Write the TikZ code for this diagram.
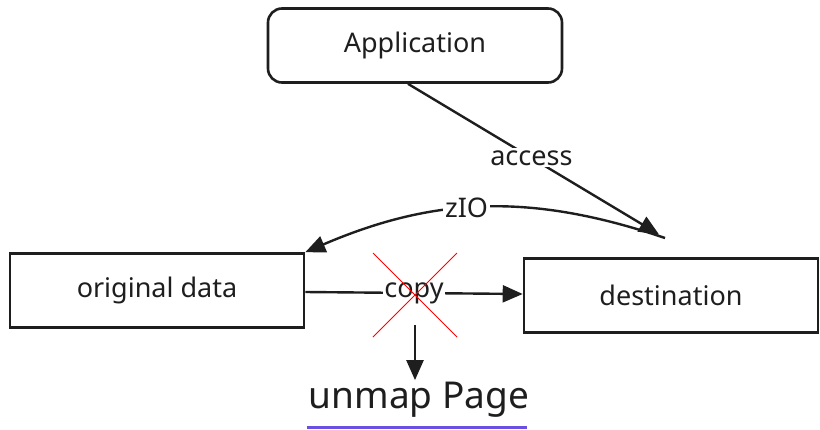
\documentclass[tikz,border=0pt]{standalone}
\usepackage{fontspec}
\setmainfont{Noto Sans}
\usetikzlibrary{arrows.meta, positioning}
\definecolor{linkpurple}{HTML}{6B4FE0}
\definecolor{inkgray}{HTML}{1E1E1E}

\tikzset{
  block/.style={draw=inkgray, line width=2.6pt, minimum width=294pt, minimum height=74pt,
    inner sep=0pt, font=\fontsize{27}{32}\selectfont, text=inkgray},
  link/.style={draw=inkgray, line width=2.4pt, ->},
  tag/.style={fill=white, inner sep=2pt, font=\fontsize{27}{32}\selectfont, text=inkgray},
}

\begin{document}
\begin{tikzpicture}[>={Triangle[length=20pt, width=17pt]}, x=1pt, y=-1pt]
\useasboundingbox (0,0) rectangle (820,429);
% boxes
\node[block, rounded corners=14pt] (app) at (415,45.5) {Application};
\node[block] (orig) at (157,290.5) {original data};
\node[block] (dest) at (671,295.5) {destination};
\coordinate (hub) at (665,238);
%
\draw[link, shorten >=7pt] (app.south -| 408,0) -- node[tag, pos=0.48] {access} (hub);
\draw[link] (hub) to[bend right=21] node[tag, pos=0.55] {zIO} (orig.north east);
\draw[link] (orig.east |- 0,292) -- node[tag, pos=0.5, inner sep=1pt] (cp) {copy} (dest.west |- 0,294);
% crossed out
\draw[red, line width=1pt] (373,253) -- (457,337) (457,253) -- (373,337);
\node[font=\fontsize{37}{42}\selectfont, text=inkgray, inner sep=2pt] (unmap) at (419,400) {unmap Page};
\draw[link] (415,325) -- (unmap.north -| 415,0);
\draw[linkpurple, line width=3pt] (307,427) -- (527,427);
\end{tikzpicture}
\end{document}
